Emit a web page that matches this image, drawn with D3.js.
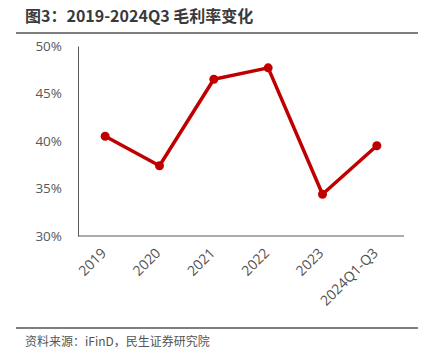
<!DOCTYPE html>
<html><head><meta charset="utf-8">
<script src="https://cdn.jsdelivr.net/npm/d3@7"></script>
<style>body{margin:0;background:#fff;}svg{display:block;}</style>
</head><body>
<svg id="c" width="431" height="362"></svg>
<script>
const categories = ["2019","2020","2021","2022","2023","2024Q1-Q3"];
const grossMargin = [40.5, 37.4, 46.5, 47.7, 34.4, 39.5];
const yTicks = [30, 35, 40, 45, 50];
const title = "图3：2019-2024Q3 毛利率变化";
const source = "资料来源：iFinD，民生证券研究院";

const svg = d3.select("#c");
const m = {l:78, r:404, t:46, b:236};
const x = d3.scaleBand().domain(categories).range([m.l, m.r]);
const y = d3.scaleLinear().domain([30, 50]).range([m.b, m.t]);
const cjk = "'Noto Sans CJK SC','Microsoft YaHei',sans-serif";
const lat = "'Open Sans','Noto Sans',sans-serif";

svg.append("text").attr("x",25).attr("y",22).text(title)
  .attr("font-family",cjk).attr("font-weight","bold").attr("font-size",16).attr("fill","#3a3a3a");
svg.append("line").attr("x1",16).attr("x2",418).attr("y1",33).attr("y2",33).attr("stroke","#555").attr("stroke-width",1.5);
svg.append("line").attr("x1",16).attr("x2",418).attr("y1",328).attr("y2",328).attr("stroke","#555").attr("stroke-width",1.5);
svg.append("text").attr("x",25).attr("y",346).text(source)
  .attr("font-family",cjk).attr("font-size",12).attr("fill","#555");

const ya = svg.append("g").attr("transform",`translate(${m.l},0)`)
  .call(d3.axisLeft(y).tickValues(yTicks).tickSize(0).tickPadding(16).tickFormat(d=>d+"%"));
ya.select(".domain").attr("stroke","#595959");
ya.selectAll("text").attr("font-family",lat).attr("font-size",13.5).attr("fill","#595959");

const xa = svg.append("g").attr("transform",`translate(0,${m.b})`)
  .call(d3.axisBottom(x).tickSize(0).tickPadding(0));
xa.select(".domain").attr("stroke","#595959").attr("d",`M${m.l},0H${m.r}`);
xa.selectAll("text").attr("font-family",lat).attr("font-size",14).attr("fill","#505050")
  .attr("text-anchor","end").attr("dy",0)
  .attr("transform","translate(2,18) rotate(-45)");

const line = d3.line().x((d,i)=>x(categories[i])+x.bandwidth()/2).y(d=>y(d));
svg.append("path").datum(grossMargin).attr("d",line).attr("fill","none")
  .attr("stroke","#c00000").attr("stroke-width",3.5).attr("stroke-linejoin","round");
svg.selectAll("circle.p").data(grossMargin).join("circle").attr("class","p")
  .attr("cx",(d,i)=>x(categories[i])+x.bandwidth()/2).attr("cy",d=>y(d)).attr("r",4.5).attr("fill","#c00000");
</script>
</body></html>
